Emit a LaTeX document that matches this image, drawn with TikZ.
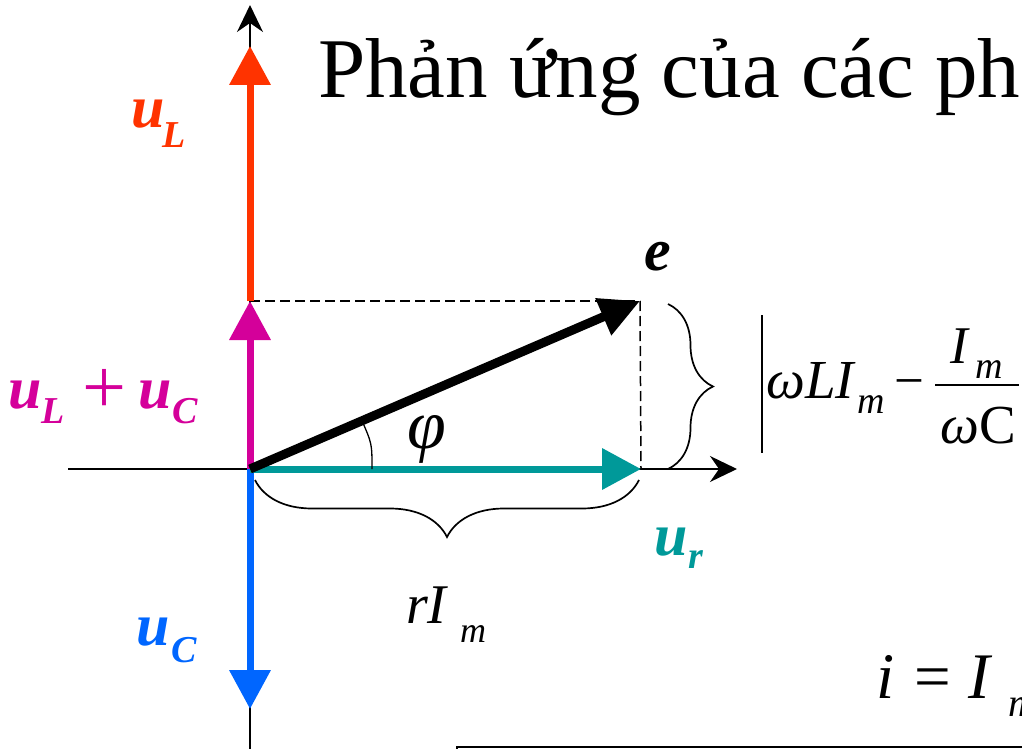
\documentclass[tikz,border=0pt]{standalone}
\usepackage{fontspec}
\setmainfont{Liberation Serif}
\usetikzlibrary{arrows.meta,decorations.pathreplacing}
\definecolor{cL}{HTML}{FF3300}
\definecolor{cLC}{HTML}{D4009A}
\definecolor{cC}{HTML}{0066FF}
\definecolor{cR}{HTML}{009999}
\newcommand\fs[1]{\fontsize{#1}{#1}\selectfont}
\begin{document}
\begin{tikzpicture}[x=1pt,y=-1pt,
  axis/.style={line width=1.5pt,-{Stealth[length=27pt,width=26pt,inset=9pt]}},
  vec/.style={line width=7pt,draw=#1,-{Triangle[length=39pt,width=40pt,fill=#1]}},
  lab/.style={inner sep=0pt,anchor=base west},
  big/.style={lab,font=\fs{60}\bfseries\itshape},
  sub/.style={lab,font=\fs{38}\bfseries\itshape},
  dsh/.style={line width=1.5pt,dash pattern=on 10pt off 5pt},
  brc/.style={line width=1.7pt,decorate,decoration={brace,amplitude=#1}}]
\clip (0,0) rectangle (1022,749);
% key points
\coordinate (O) at (250,469);
\coordinate (T) at (250,5);
\coordinate (B) at (250,752);
\coordinate (W) at (68,469);
\coordinate (E) at (737,469);
\coordinate (LC) at (250,301);
\coordinate (L) at (250,46);
\coordinate (C) at (250,709);
\coordinate (R) at (641,469);
\coordinate (Ev) at (640,301);
% axes
\draw[axis] (B) -- (T);
\draw[axis] (W) -- (E);
% dashed projections
\draw[dsh] (LC) -- (Ev);
\draw[dsh] (Ev) -- (R);
% braces
\coordinate (br1) at (668,304);
\coordinate (br2) at (668,469);
\draw[brc=45pt] (br1) -- (br2);
\coordinate (bb1) at (639,480);
\coordinate (bb2) at (255,480);
\draw[brc=57pt] (bb1) -- (bb2);
% vectors
\draw[vec=cL] (LC) -- (L);
\draw[vec=cLC] (O) -- (LC);
\draw[vec=cC] (O) -- (C);
\draw[vec=cR] (O) -- (R);
\draw[line width=9pt,-{Triangle[length=40pt,width=38pt]}] (O) -- (Ev);
% angle mark
\coordinate (a1) at (372,469);
\coordinate (a2) at (362,420.7);
\draw[line width=1.3pt] (a1) .. controls (372,443.8) .. (a2);
% vector labels
\node[big] (te) at (644,270) {e};
\node[big,text=cL] (tLu) at (131,128) {u};
\node[sub,text=cL] (tLs) at (162,147) {L};
\node[big,text=cLC] (tLCu1) at (8,408) {u};
\node[sub,text=cLC] (tLCs1) at (41,423) {L};
\node[lab,text=cLC,font=\fs{78}] (tplus) at (82,413) {+};
\node[big,text=cLC] (tLCu2) at (138,408) {u};
\node[sub,text=cLC] (tLCs2) at (172,423) {C};
\node[big,text=cC] (tCu) at (136,645) {u};
\node[sub,text=cC] (tCs) at (171,662) {C};
\node[big,text=cR] (tRu) at (654,555) {u};
\node[sub,text=cR] (tRs) at (688,568) {r};
% other labels
\node[lab] (phi) at (407,448) {\fs{70}\itshape φ};
\node[lab] (rI) at (406,623) {\fs{56}\itshape rI};
\node[lab] (rIm) at (460,642) {\fs{36}\itshape m};
% title
\node[lab] (title) at (318,98) {\fs{85}Phản ứng của các ph};
% formula
\coordinate (ab1) at (762,315);
\coordinate (ab2) at (762,453);
\draw[line width=1.5pt] (ab1) -- (ab2);
\node[lab] (wLI) at (766,398) {\fs{55}\itshape ωLI};
\node[lab] (wLIm) at (857,413) {\fs{38}\itshape m};
\node[lab] (minus) at (894,398) {\fs{53}−};
\coordinate (fr1) at (935,385);
\coordinate (fr2) at (1019,385);
\draw[line width=1.5pt] (fr1) -- (fr2);
\node[lab] (num) at (950,363) {\fs{53}\itshape I};
\node[lab] (numm) at (975,378) {\fs{38}\itshape m};
\node[lab] (den) at (940,443) {\fs{55}{\itshape ω}C};
% i = I_m
\node[lab] (ii) at (876,698) {\fs{65}\itshape i};
\node[lab] (eq) at (914,698) {\fs{65}=};
\node[lab] (II) at (968,698) {\fs{65}\itshape I};
\node[lab] (ieqm) at (1008,716) {\fs{40}\itshape m};
% bottom box
\coordinate (bx1) at (457,747);
\coordinate (bx2) at (1040,800);
\draw[line width=2pt] (bx1) rectangle (bx2);
\end{tikzpicture}
\end{document}
